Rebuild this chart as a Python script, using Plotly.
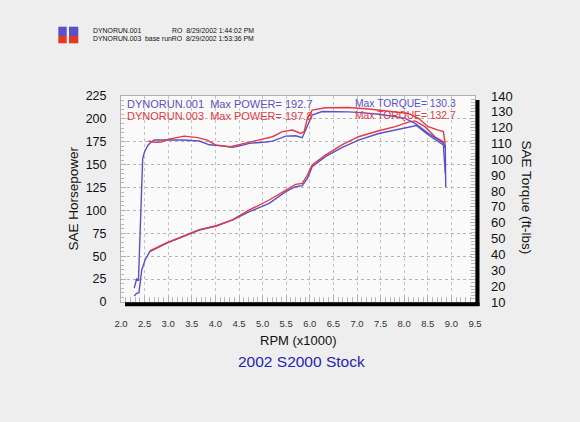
import plotly.graph_objects as go

# ---------------- data ----------------
rpm_tq_001 = [2.28, 2.33, 2.37, 2.41, 2.44, 2.46, 2.50, 2.57, 2.64, 2.71, 2.82, 3.00, 3.31, 3.66,
              3.87, 4.08, 4.37, 4.58, 4.72, 5.07, 5.21, 5.49, 5.70, 5.84, 5.95, 6.05, 6.26, 6.47,
              6.82, 7.10, 7.46, 7.81, 8.02, 8.23, 8.51, 8.72, 8.80, 8.87, 8.87, 8.88]
tq_001 = [18.8, 24.5, 23.9, 60.0, 90.0, 100.7, 104.8, 109.0, 111.0, 112.2, 112.3, 112.4, 112.2, 111.6,
          109.2, 108.8, 107.6, 109.0, 110.1, 111.0, 111.5, 114.7, 114.9, 113.7, 121.7, 128.0, 130.2, 130.3,
          130.0, 129.5, 128.5, 127.0, 125.9, 122.7, 116.4, 112.5, 111.0, 109.0, 95.4, 82.4]

rpm_tq_003 = [2.58, 2.71, 2.85, 2.99, 3.34, 3.62, 3.83, 4.01, 4.32, 4.53, 4.72, 4.89, 5.21, 5.42,
              5.63, 5.81, 5.88, 5.95, 6.05, 6.33, 6.82, 7.25, 7.46, 7.67, 8.09, 8.30, 8.51, 8.72,
              8.83, 8.87]
tq_003 = [111.6, 110.8, 111.0, 112.6, 114.7, 113.7, 112.2, 109.0, 108.0, 109.5, 111.0, 112.2, 114.3, 117.5,
          118.5, 116.4, 117.5, 125.9, 131.1, 132.6, 132.7, 131.8, 131.0, 130.5, 129.0, 125.9, 120.6, 118.5,
          117.5, 110.0]

rpm_hp_001 = [2.28, 2.33, 2.38, 2.44, 2.51, 2.61, 2.96, 3.66, 4.02, 4.37, 4.72, 5.14, 5.49, 5.70,
              5.84, 5.95, 6.05, 6.33, 6.68, 7.03, 7.46, 7.81, 8.16, 8.26, 8.51, 8.72, 8.83, 8.87]
hp_001 = [6.5, 9.5, 10.2, 35.0, 45.9, 55.0, 64.0, 78.6, 83.0, 89.6, 98.6, 107.8, 120.5, 125.9,
          127.0, 135.1, 147.8, 158.7, 168.5, 176.9, 184.0, 188.0, 192.0, 192.7, 182.4, 175.0, 171.5, 140.0]

rpm_hp_003 = [2.61, 2.96, 3.66, 4.02, 4.37, 4.72, 5.14, 5.49, 5.70, 5.84, 5.95, 6.05, 6.33, 6.68,
              7.03, 7.46, 7.81, 8.09, 8.23, 8.44, 8.65, 8.83, 8.87]
hp_003 = [55.7, 64.5, 79.0, 83.3, 90.0, 100.5, 111.4, 122.3, 128.5, 129.6, 138.7, 149.6, 160.5, 171.5,
          180.5, 187.0, 191.5, 196.5, 197.8, 191.5, 180.5, 175.0, 168.0]

run_names = ["DYNORUN.001", "DYNORUN.003"]
run_notes = ["RO  8/29/2002 1:44:02 PM", "base runRO  8/29/2002 1:53:36 PM"]
max_power = [192.7, 197.8]
max_torque = [130.3, 132.7]

x_ticks = [2.0, 2.5, 3.0, 3.5, 4.0, 4.5, 5.0, 5.5, 6.0, 6.5, 7.0, 7.5, 8.0, 8.5, 9.0, 9.5]

# ---------------- styling ----------------
BLUE = "#5c50c8"
RED = "#e23a44"
FONT = "Liberation Sans, Arial, sans-serif"
W, H = 580, 422
L, R, T, B = 121, 475, 96, 302  # plot area in pixels


def px(xp):
    return (xp - L) / (R - L)


def py(yp):
    return (B - yp) / (B - T)


fig = go.Figure()
fig.add_trace(go.Scatter(x=rpm_tq_001, y=tq_001, yaxis="y2", mode="lines",
                         line=dict(color=BLUE, width=1.4), showlegend=False))
fig.add_trace(go.Scatter(x=rpm_tq_003, y=tq_003, yaxis="y2", mode="lines",
                         line=dict(color=RED, width=1.4), showlegend=False))
fig.add_trace(go.Scatter(x=rpm_hp_001, y=hp_001, mode="lines",
                         line=dict(color=BLUE, width=1.4), showlegend=False))
fig.add_trace(go.Scatter(x=rpm_hp_003, y=hp_003, mode="lines",
                         line=dict(color=RED, width=1.4), showlegend=False))

shapes = []
# drop-shadow style thick frame (right and bottom)
shapes.append(dict(type="line", xref="paper", yref="paper", x0=px(477.5), x1=px(477.5),
                   y0=py(100), y1=py(306), line=dict(color="black", width=4)))
shapes.append(dict(type="line", xref="paper", yref="paper", x0=px(125), x1=px(479.5),
                   y0=py(304.3), y1=py(304.3), line=dict(color="black", width=4)))
# header swatches
for x0, x1 in [(58.3, 66.7), (69, 78.3)]:
    shapes.append(dict(type="rect", xref="paper", yref="paper", x0=px(x0), x1=px(x1),
                       y0=py(36), y1=py(26.7), line=dict(width=0), fillcolor=BLUE))
    shapes.append(dict(type="rect", xref="paper", yref="paper", x0=px(x0), x1=px(x1),
                       y0=py(43.3), y1=py(36), line=dict(width=0), fillcolor="#e03a22"))

ann = []
cols = [BLUE, RED]
for i in range(2):
    yy = [30.5, 38.7][i]
    ann.append(dict(text=run_names[i], x=px(90.5), y=py(yy), xanchor="left", yanchor="middle",
                    font=dict(size=6.9, color="#111", family=FONT)))
    ann.append(dict(text=run_notes[i], x=px(255.5), y=py(yy), xanchor="right", yanchor="middle",
                    font=dict(size=6.9, color="#111", family=FONT)))
    yy2 = [103.5, 115.5][i]
    ann.append(dict(text=f"{run_names[i]}  Max POWER= {max_power[i]}", x=px(124.5), y=py(yy2),
                    xanchor="left", yanchor="middle", font=dict(size=11, color=cols[i], family=FONT)))
    ann.append(dict(text=f"Max TORQUE= {max_torque[i]}", x=px(352.5), y=py(yy2),
                    xanchor="left", yanchor="middle", font=dict(size=10.3, color=cols[i], family=FONT)))

ann.append(dict(text="SAE Horsepower", textangle=-90, x=px(72.5), y=py(199), xanchor="center",
                yanchor="middle", font=dict(size=13.5, color="#111", family=FONT)))
ann.append(dict(text="SAE Torque (ft-lbs)", textangle=90, x=px(526), y=py(197.5), xanchor="center",
                yanchor="middle", font=dict(size=13.5, color="#111", family=FONT)))
ann.append(dict(text="RPM (x1000)", x=px(298), y=py(340), xanchor="center", yanchor="middle",
                font=dict(size=13, color="#111", family=FONT)))
ann.append(dict(text="2002 S2000 Stock", x=px(301), y=py(361.5), xanchor="center", yanchor="middle",
                font=dict(size=15.5, color="#2424b0", family=FONT)))
for a in ann:
    a.update(xref="paper", yref="paper", showarrow=False)

fig.update_layout(
    width=W, height=H,
    margin=dict(l=L, r=W - R, t=T, b=H - B, pad=0),
    paper_bgcolor="#eeeeee",
    plot_bgcolor="#fafafa",
    font=dict(family=FONT),
    shapes=shapes,
    annotations=ann,
    xaxis=dict(range=[2.0, 9.5], tickvals=x_ticks, ticktext=[f"{v:.1f}" for v in x_ticks],
               tickfont=dict(size=9.5, color="#333"), ticks="inside", ticklen=6, tickcolor="#b0b0b0",
               ticklabelstandoff=13,
               showgrid=True, gridcolor="#c4c4c4", gridwidth=1, griddash="dot",
               minor=dict(dtick=0.1, ticks="inside", ticklen=5, tickcolor="#b8b8b8", showgrid=False),
               showline=True, linecolor="#b0b0b0", linewidth=1, mirror=True, zeroline=False,
               fixedrange=True),
    yaxis=dict(range=[0, 225], dtick=25, tickfont=dict(size=12.5, color="#111"),
               ticks="inside", ticklen=5, tickcolor="#b0b0b0", ticklabelstandoff=11,
               showgrid=True, gridcolor="#b4b4b4", gridwidth=1, griddash="dot",
               minor=dict(dtick=5, ticks="inside", ticklen=3, tickcolor="#b8b8b8", showgrid=False),
               showline=True, linecolor="#b0b0b0", linewidth=1, mirror=True, zeroline=False,
               fixedrange=True),
    yaxis2=dict(range=[10, 140], dtick=10, overlaying="y", side="right",
                tickfont=dict(size=13, color="#111"), ticks="inside", ticklen=5, tickcolor="#b0b0b0",
                ticklabelstandoff=15,
                minor=dict(dtick=2, ticks="inside", ticklen=4, tickcolor="#b8b8b8", showgrid=False),
                showgrid=False, zeroline=False, showline=False, fixedrange=True),
)

fig.write_html("out.html", config={"displayModeBar": False},
               post_script="document.body.style.margin='0';document.body.style.background='#eeeeee';")
